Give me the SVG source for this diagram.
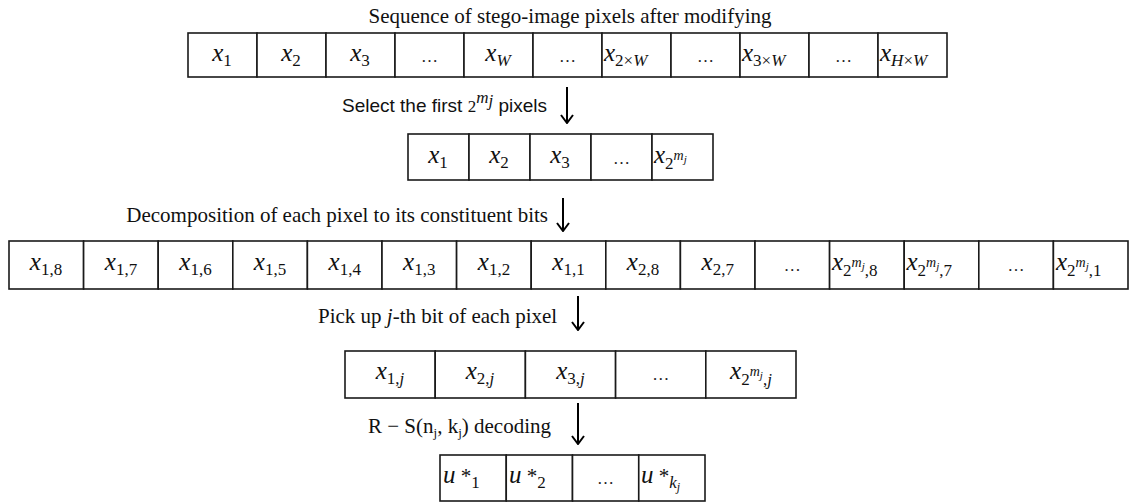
<svg xmlns="http://www.w3.org/2000/svg" width="1130" height="502" viewBox="0 0 1130 502">
  <defs>
    <marker id="head" viewBox="0 0 10 14" refX="9" refY="7" markerWidth="10" markerHeight="14" markerUnits="userSpaceOnUse" orient="auto">
      <path d="M1 1 L9 7 L1 13" fill="none" stroke="#000" stroke-width="2"/>
    </marker>
    <style>
      .cell { fill: #fff; stroke: #1a1a1a; stroke-width: 1.6; }
      .cap { font-family: "Liberation Serif", "Times New Roman", serif; font-size: 21px; fill: #111; }
      .sans { font-family: "Liberation Sans", Arial, sans-serif; font-size: 19px; fill: #111; }
      .lbl { font-family: "Liberation Serif", "Times New Roman", serif; font-size: 17px; fill: #111; }
      .v { font-style: italic; font-size: 25px; }
      .it { font-style: italic; }
      .dots { font-family: "Liberation Serif", serif; font-size: 17px; fill: #222; }
      .arrow { stroke: #000; stroke-width: 2; fill: none; marker-end: url(#head); }
    </style>
  </defs>
  <rect width="1130" height="502" fill="#fff"/>

  <!-- captions -->
  <g id="captions">
    <text class="cap" x="570" y="23" text-anchor="middle">Sequence of stego-image pixels after modifying</text>
    <text class="sans" x="342" y="112">Select the first <tspan class="lbl" font-size="21">2</tspan><tspan class="lbl it" font-size="15" dy="-9">m</tspan><tspan class="lbl it" font-size="11" dy="3">j</tspan><tspan dy="6"> pixels</tspan></text>
    <text class="cap" x="548" y="222" text-anchor="end">Decomposition of each pixel to its constituent bits</text>
    <text class="cap" x="318" y="323">Pick up <tspan class="it">j</tspan>-th bit of each pixel</text>
    <text class="cap" x="368" y="433">R − S(n<tspan font-size="13" dy="4">j</tspan><tspan dy="-4">, k</tspan><tspan font-size="13" dy="4">j</tspan><tspan dy="-4">) decoding</tspan></text>
  </g>

  <!-- row 1: full pixel sequence -->
  <g id="row-sequence">
    <rect class="cell" x="188" y="33" width="69" height="44"/>
    <rect class="cell" x="257" y="33" width="69" height="44"/>
    <rect class="cell" x="326" y="33" width="69" height="44"/>
    <rect class="cell" x="395" y="33" width="69" height="44"/>
    <rect class="cell" x="464" y="33" width="69" height="44"/>
    <rect class="cell" x="533" y="33" width="69" height="44"/>
    <rect class="cell" x="602" y="33" width="69" height="44"/>
    <rect class="cell" x="671" y="33" width="69" height="44"/>
    <rect class="cell" x="740" y="33" width="69" height="44"/>
    <rect class="cell" x="809" y="33" width="69" height="44"/>
    <rect class="cell" x="878" y="33" width="69" height="44"/>
    <text class="lbl" x="222" y="61" text-anchor="middle"><tspan class="v">x</tspan><tspan dy="5">1</tspan></text>
    <text class="lbl" x="291" y="61" text-anchor="middle"><tspan class="v">x</tspan><tspan dy="5">2</tspan></text>
    <text class="lbl" x="360" y="61" text-anchor="middle"><tspan class="v">x</tspan><tspan dy="5">3</tspan></text>
    <text class="dots" x="429.5" y="62" text-anchor="middle">…</text>
    <text class="lbl" x="498" y="61" text-anchor="middle"><tspan class="v">x</tspan><tspan class="it" dy="5">W</tspan></text>
    <text class="dots" x="567.5" y="62" text-anchor="middle">…</text>
    <text class="lbl" x="604" y="61"><tspan class="v">x</tspan><tspan dy="5">2×</tspan><tspan class="it">W</tspan></text>
    <text class="dots" x="705.5" y="62" text-anchor="middle">…</text>
    <text class="lbl" x="742" y="61"><tspan class="v">x</tspan><tspan dy="5">3×</tspan><tspan class="it">W</tspan></text>
    <text class="dots" x="843.5" y="62" text-anchor="middle">…</text>
    <text class="lbl" x="880" y="61"><tspan class="v">x</tspan><tspan class="it" dy="5">H</tspan><tspan>×</tspan><tspan class="it">W</tspan></text>
  </g>

  <!-- row 2: first 2^mj pixels -->
  <g id="row-selected">
    <rect class="cell" x="408" y="134" width="61" height="46"/>
    <rect class="cell" x="469" y="134" width="61" height="46"/>
    <rect class="cell" x="530" y="134" width="61" height="46"/>
    <rect class="cell" x="591" y="134" width="61" height="46"/>
    <rect class="cell" x="652" y="134" width="61" height="46"/>
    <text class="lbl" x="438" y="163" text-anchor="middle"><tspan class="v">x</tspan><tspan dy="5">1</tspan></text>
    <text class="lbl" x="499" y="163" text-anchor="middle"><tspan class="v">x</tspan><tspan dy="5">2</tspan></text>
    <text class="lbl" x="560" y="163" text-anchor="middle"><tspan class="v">x</tspan><tspan dy="5">3</tspan></text>
    <text class="dots" x="621.5" y="164" text-anchor="middle">…</text>
    <text class="lbl" x="654" y="163"><tspan class="v">x</tspan><tspan dy="6">2</tspan><tspan class="it" font-size="14" dy="-9">m</tspan><tspan class="it" font-size="11" dy="3">j</tspan></text>
  </g>

  <!-- row 3: bit planes of each pixel -->
  <g id="row-bits">
    <rect class="cell" x="9" y="241" width="74.6" height="48"/>
    <rect class="cell" x="83.6" y="241" width="74.6" height="48"/>
    <rect class="cell" x="158.2" y="241" width="74.6" height="48"/>
    <rect class="cell" x="232.8" y="241" width="74.6" height="48"/>
    <rect class="cell" x="307.4" y="241" width="74.6" height="48"/>
    <rect class="cell" x="382" y="241" width="74.6" height="48"/>
    <rect class="cell" x="456.6" y="241" width="74.6" height="48"/>
    <rect class="cell" x="531.2" y="241" width="74.6" height="48"/>
    <rect class="cell" x="605.8" y="241" width="74.6" height="48"/>
    <rect class="cell" x="680.4" y="241" width="74.6" height="48"/>
    <rect class="cell" x="755" y="241" width="74.6" height="48"/>
    <rect class="cell" x="829.6" y="241" width="74.6" height="48"/>
    <rect class="cell" x="904.2" y="241" width="74.6" height="48"/>
    <rect class="cell" x="978.8" y="241" width="74.6" height="48"/>
    <rect class="cell" x="1053.4" y="241" width="74.6" height="48"/>
    <text class="lbl" x="46" y="270" text-anchor="middle"><tspan class="v">x</tspan><tspan dy="5">1,8</tspan></text>
    <text class="lbl" x="121" y="270" text-anchor="middle"><tspan class="v">x</tspan><tspan dy="5">1,7</tspan></text>
    <text class="lbl" x="195.5" y="270" text-anchor="middle"><tspan class="v">x</tspan><tspan dy="5">1,6</tspan></text>
    <text class="lbl" x="270" y="270" text-anchor="middle"><tspan class="v">x</tspan><tspan dy="5">1,5</tspan></text>
    <text class="lbl" x="344.7" y="270" text-anchor="middle"><tspan class="v">x</tspan><tspan dy="5">1,4</tspan></text>
    <text class="lbl" x="419.3" y="270" text-anchor="middle"><tspan class="v">x</tspan><tspan dy="5">1,3</tspan></text>
    <text class="lbl" x="494" y="270" text-anchor="middle"><tspan class="v">x</tspan><tspan dy="5">1,2</tspan></text>
    <text class="lbl" x="568.5" y="270" text-anchor="middle"><tspan class="v">x</tspan><tspan dy="5">1,1</tspan></text>
    <text class="lbl" x="643" y="270" text-anchor="middle"><tspan class="v">x</tspan><tspan dy="5">2,8</tspan></text>
    <text class="lbl" x="717.7" y="270" text-anchor="middle"><tspan class="v">x</tspan><tspan dy="5">2,7</tspan></text>
    <text class="dots" x="792.3" y="271" text-anchor="middle">…</text>
    <text class="lbl" x="832" y="270"><tspan class="v">x</tspan><tspan dy="6">2</tspan><tspan class="it" font-size="14" dy="-9">m</tspan><tspan class="it" font-size="11" dy="3">j</tspan><tspan dy="6">,8</tspan></text>
    <text class="lbl" x="906.5" y="270"><tspan class="v">x</tspan><tspan dy="6">2</tspan><tspan class="it" font-size="14" dy="-9">m</tspan><tspan class="it" font-size="11" dy="3">j</tspan><tspan dy="6">,7</tspan></text>
    <text class="dots" x="1016" y="271" text-anchor="middle">…</text>
    <text class="lbl" x="1056" y="270"><tspan class="v">x</tspan><tspan dy="6">2</tspan><tspan class="it" font-size="14" dy="-9">m</tspan><tspan class="it" font-size="11" dy="3">j</tspan><tspan dy="6">,1</tspan></text>
  </g>

  <!-- row 4: j-th bit of each pixel -->
  <g id="row-jbits">
    <rect class="cell" x="345" y="351" width="90.2" height="47"/>
    <rect class="cell" x="435.2" y="351" width="90.2" height="47"/>
    <rect class="cell" x="525.4" y="351" width="90.2" height="47"/>
    <rect class="cell" x="615.6" y="351" width="90.2" height="47"/>
    <rect class="cell" x="705.8" y="351" width="90.2" height="47"/>
    <text class="lbl" x="390" y="379" text-anchor="middle"><tspan class="v">x</tspan><tspan dy="5">1,</tspan><tspan class="it">j</tspan></text>
    <text class="lbl" x="480" y="379" text-anchor="middle"><tspan class="v">x</tspan><tspan dy="5">2,</tspan><tspan class="it">j</tspan></text>
    <text class="lbl" x="570.5" y="379" text-anchor="middle"><tspan class="v">x</tspan><tspan dy="5">3,</tspan><tspan class="it">j</tspan></text>
    <text class="dots" x="660.7" y="380" text-anchor="middle">…</text>
    <text class="lbl" x="751" y="379" text-anchor="middle"><tspan class="v">x</tspan><tspan dy="6">2</tspan><tspan class="it" font-size="14" dy="-9">m</tspan><tspan class="it" font-size="11" dy="3">j</tspan><tspan dy="6">,</tspan><tspan class="it">j</tspan></text>
  </g>

  <!-- row 5: decoded message symbols -->
  <g id="row-decoded">
    <rect class="cell" x="440" y="455" width="66.25" height="46"/>
    <rect class="cell" x="506.25" y="455" width="66.25" height="46"/>
    <rect class="cell" x="572.5" y="455" width="66.25" height="46"/>
    <rect class="cell" x="638.75" y="455" width="66.25" height="46"/>
    <text class="lbl" x="443" y="483"><tspan class="v">u</tspan><tspan font-size="21"> *</tspan><tspan dy="5">1</tspan></text>
    <text class="lbl" x="509" y="483"><tspan class="v">u</tspan><tspan font-size="21"> *</tspan><tspan dy="5">2</tspan></text>
    <text class="dots" x="605.6" y="484" text-anchor="middle">…</text>
    <text class="lbl" x="641" y="483"><tspan class="v">u</tspan><tspan font-size="21"> *</tspan><tspan class="it" dy="5">k</tspan><tspan class="it" font-size="12" dy="3">j</tspan></text>
  </g>

  <!-- connectors between stages -->
  <g id="connectors">
    <line class="arrow" x1="567" y1="87" x2="567" y2="123"/>
    <line class="arrow" x1="563" y1="198" x2="563" y2="231"/>
    <line class="arrow" x1="578" y1="296" x2="578" y2="330"/>
    <line class="arrow" x1="578" y1="403" x2="578" y2="444"/>
  </g>
</svg>
